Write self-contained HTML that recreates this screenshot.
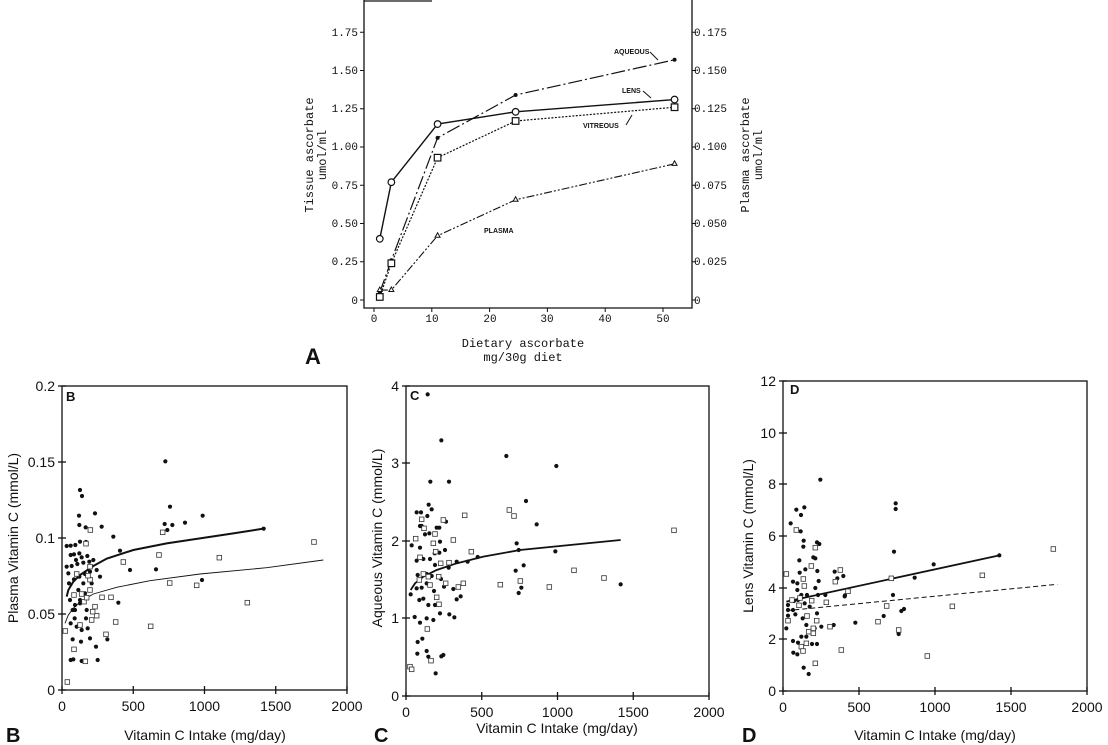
<!DOCTYPE html>
<html><head><meta charset="utf-8"><style>
html,body{margin:0;padding:0;background:#fff;}
svg{display:block;}
.m{font-family:"Liberation Mono",monospace;font-size:11px;fill:#111;}
.mt{font-family:"Liberation Mono",monospace;font-size:12px;fill:#111;}
.s{font-family:"Liberation Sans",sans-serif;font-size:14px;fill:#111;}
.lb{font-family:"Liberation Sans",sans-serif;font-size:7px;font-weight:bold;fill:#111;}
</style></head><body>
<svg id="g" width="1108" height="745" viewBox="0 0 1108 745" xmlns="http://www.w3.org/2000/svg">
<g stroke="#111" fill="none" stroke-width="1.3">
<path d="M364,0 V308 H692 V0"/><path d="M364,1 H432"/>
</g>
<g class="m" text-anchor="end">
<text x="358" y="36">1.75</text><text x="358" y="74">1.50</text><text x="358" y="112">1.25</text>
<text x="358" y="150">1.00</text><text x="358" y="189">0.75</text><text x="358" y="227">0.50</text>
<text x="358" y="265">0.25</text><text x="358" y="304">0</text>
</g>
<g class="m">
<text x="694" y="36">0.175</text><text x="694" y="74">0.150</text><text x="694" y="112">0.125</text>
<text x="694" y="150">0.100</text><text x="694" y="189">0.075</text><text x="694" y="227">0.050</text>
<text x="694" y="265">0.025</text><text x="694" y="304">0</text>
</g>
<g class="m" text-anchor="middle">
<text x="374" y="322">0</text><text x="432" y="322">10</text><text x="490" y="322">20</text>
<text x="547" y="322">30</text><text x="605" y="322">40</text><text x="663" y="322">50</text>
</g>
<g class="mt" text-anchor="middle">
<text x="523" y="347">Dietary ascorbate</text><text x="523" y="361">mg/30g diet</text>
<text transform="translate(313,155) rotate(-90)">Tissue ascorbate</text>
<text transform="translate(326,155) rotate(-90)">umol/ml</text>
<text transform="translate(749,155) rotate(-90)">Plasma ascorbate</text>
<text transform="translate(762,155) rotate(-90)">umol/ml</text>
</g>
<text x="305" y="364" font-family="Liberation Sans,sans-serif" font-weight="bold" font-size="22" fill="#111">A</text>
<text class="lb" x="614" y="54">AQUEOUS</text><text class="lb" x="622" y="93">LENS</text>
<text class="lb" x="583" y="128">VITREOUS</text><text class="lb" x="484" y="233">PLASMA</text>
<g stroke="#111" stroke-width="1" fill="none">
<path d="M650,52 L658,60"/><path d="M643,91 L651,98"/><path d="M626,125 L632,115"/>
</g>
<g id="A"></g>
<g id="B"></g><g id="C"></g><g id="D"></g>
<g class="s">
<text x="6" y="742" font-weight="bold" font-size="20">B</text>
<text x="374" y="742" font-weight="bold" font-size="20">C</text>
<text x="742" y="742" font-weight="bold" font-size="20">D</text>
<text x="66" y="401" font-weight="bold" font-size="13">B</text>
<text x="410" y="400" font-weight="bold" font-size="13">C</text>
<text x="790" y="394" font-weight="bold" font-size="13">D</text>
<text x="205" y="740" text-anchor="middle">Vitamin C Intake (mg/day)</text>
<text x="557" y="733" text-anchor="middle">Vitamin C Intake (mg/day)</text>
<text x="935" y="740" text-anchor="middle">Vitamin C Intake (mg/day)</text>
<text transform="translate(18,538) rotate(-90)" text-anchor="middle">Plasma Vitamin C (mmol/L)</text>
<text transform="translate(382,538) rotate(-90)" text-anchor="middle">Aqueous Vitamin C (mmol/L)</text>
<text transform="translate(753,536) rotate(-90)" text-anchor="middle">Lens Vitamin C (mmol/L)</text>
</g>
</svg>
<script>
var NS="http://www.w3.org/2000/svg";
function el(p,t,a,txt){var e=document.createElementNS(NS,t);for(var k in a)e.setAttribute(k,a[k]);if(txt!=null)e.textContent=txt;p.appendChild(e);return e;}
var A=document.getElementById("A");
function px(d){return 374+5.78*d;} function py(v){return 300-153*v;}
for(var i=0;i<8;i++){var y=py(i*0.25);el(A,"line",{x1:360,x2:364,y1:y,y2:y,stroke:"#111"});el(A,"line",{x1:692,x2:696,y1:y,y2:y,stroke:"#111"});}
for(var i=0;i<6;i++){var x=px(i*10);el(A,"line",{x1:x,x2:x,y1:308,y2:312,stroke:"#111"});}
var xs=[1,3,11,24.5,52];
var ser=[
 {y:[0.40,0.77,1.15,1.23,1.31],d:"",m:"o",w:1.4},
 {y:[0.05,0.26,1.06,1.34,1.57],d:"14,3,2,3",m:"d",w:1.2},
 {y:[0.02,0.24,0.93,1.17,1.26],d:"2,1.5",m:"s",w:1.2},
 {y:[0.065,0.065,0.42,0.655,0.89],d:"8,2,2,2,2,2",m:"t",w:1.1}];
ser.forEach(function(s){var pts=xs.map(function(x,i){return px(x)+","+py(s.y[i]);}).join(" ");
 el(A,"polyline",{points:pts,fill:"none",stroke:"#111","stroke-width":s.w,"stroke-dasharray":s.d});
 xs.forEach(function(x,i){var X=px(x),Y=py(s.y[i]);
  if(s.m=="o")el(A,"circle",{cx:X,cy:Y,r:3.3,fill:"#fff",stroke:"#111","stroke-width":1.2});
  if(s.m=="s")el(A,"rect",{x:X-3.3,y:Y-3.3,width:6.6,height:6.6,fill:"#fff",stroke:"#111","stroke-width":1.2});
  if(s.m=="d")el(A,"circle",{cx:X,cy:Y,r:2,fill:"#111"});
  if(s.m=="t")el(A,"path",{d:"M"+X+","+(Y-3)+" l2.5,4.5 h-5z",fill:"#fff",stroke:"#111"});
 });});
function panel(id,ox,oy,box,yt,xt,filled,open,lines){
 var g=document.getElementById(id);
 function Z(p){return [ox+p[0]/3,oy+p[1]/3];}
 el(g,"rect",{x:box[0],y:box[1],width:box[2]-box[0],height:box[3]-box[1],fill:"none",stroke:"#111","stroke-width":1.3});
 yt.forEach(function(t){el(g,"line",{x1:box[0]-4,x2:box[0]+4,y1:t[1],y2:t[1],stroke:"#111","stroke-width":1.3});
  el(g,"text",{x:box[0]-7,y:t[1]+5,"text-anchor":"end","class":"s"},t[0]);});
 xt.forEach(function(t){el(g,"line",{x1:t[1],x2:t[1],y1:box[3]-4,y2:box[3]+4,stroke:"#111","stroke-width":1.3});
  el(g,"text",{x:t[1],y:box[3]+21,"text-anchor":"middle","class":"s"},t[0]);});
 lines.forEach(function(l){var pts=l.p.map(function(p){return Z(p).join(",");}).join(" ");
  el(g,"polyline",{points:pts,fill:"none",stroke:"#111","stroke-width":l.w,"stroke-dasharray":l.d||""});});
 filled.forEach(function(p){var q=Z(p);el(g,"circle",{cx:q[0],cy:q[1],r:2.1,fill:"#111"});});
 open.forEach(function(p){var q=Z(p);el(g,"rect",{x:q[0]-2.3,y:q[1]-2.3,width:4.6,height:4.6,fill:"#fff",stroke:"#333","stroke-width":0.8});});
}
function xticks(x0,x1){var r=[];for(var i=0;i<5;i++)r.push([String(i*500),x0+(x1-x0)*i/4]);return r;}
panel("B",0,370,[62,386,347,690],
 [["0.2",386],["0.15",462],["0.1",538],["0.05",614],["0",690]],xticks(62,347),
 [[200,528],[212,527],[226,525],[240,515],[258,516],[222,553],[238,550],[212,555],[228,570],[245,562],[262,558],[200,590],[215,588],[232,582],[250,578],[268,575],[280,570],[207,640],[222,628],[238,620],[255,612],[270,605],[290,600],[210,690],[225,705],[240,690],[255,670],[270,660],[225,720],[240,700],[260,720],[212,760],[230,770],[245,780],[263,775],[218,808],[243,815],[270,805],[288,830],[212,870],[220,868],[245,873],[293,870],[240,360],[246,378],[237,437],[285,430],[257,472],[238,465],[305,470],[340,500],[360,542],[390,600],[355,698],[322,808],[496,274],[510,410],[494,462],[502,480],[517,465],[555,458],[608,437],[791,476],[468,598],[606,630],[235,660],[250,640],[275,640],[300,620],[205,610],[218,720],[258,745],[224,745]],
 [[196,783],[202,936],[222,838],[222,675],[230,612],[245,672],[252,695],[260,683],[270,590],[270,629],[270,660],[275,750],[285,710],[290,737],[306,682],[318,793],[333,682],[347,756],[370,576],[258,521],[271,480],[477,555],[488,487],[509,639],[452,769],[590,646],[658,563],[742,698],[942,516],[240,765],[256,874],[264,617],[278,725]],
 [{p:[[200,680],[205,660],[220,635],[240,615],[280,588],[320,566],[400,540],[500,520],[600,505],[700,490],[790,476]],w:2},
  {p:[[195,760],[205,735],[220,715],[245,692],[280,672],[350,652],[450,632],[600,612],[800,593],[970,570]],w:0.9}]);
panel("C",370,370,[406,386,709,696],
 [["4",386],["3",463],["2",541],["1",618],["0",696]],xticks(406,709),
 [[173,73],[214,211],[409,258],[559,288],[181,335],[237,335],[140,427],[153,427],[176,404],[185,418],[172,438],[150,468],[155,468],[200,473],[208,473],[228,455],[165,493],[178,490],[210,515],[125,526],[150,533],[140,572],[160,567],[180,567],[194,550],[208,548],[225,540],[195,585],[236,593],[260,575],[293,575],[323,561],[143,615],[170,612],[185,618],[122,673],[140,655],[155,653],[170,640],[192,663],[213,627],[222,650],[250,657],[148,690],[160,686],[175,705],[195,705],[210,730],[238,733],[260,688],[272,679],[134,741],[150,758],[170,745],[190,750],[253,742],[143,816],[157,806],[142,851],[170,843],[175,860],[214,859],[220,855],[197,910],[440,520],[446,540],[500,463],[468,393],[437,602],[461,586],[446,669],[454,653],[556,544],[752,643]],
 [[120,890],[125,898],[137,506],[155,448],[162,475],[150,562],[148,630],[160,612],[175,620],[180,645],[190,520],[195,492],[197,545],[200,682],[207,703],[206,620],[212,580],[220,450],[227,640],[237,578],[250,510],[265,651],[280,640],[284,436],[304,545],[172,777],[183,872],[391,644],[418,420],[432,438],[451,633],[538,651],[612,601],[702,624],[912,481]],
 [{p:[[122,660],[135,640],[160,620],[200,600],[260,580],[340,560],[450,540],[600,525],[752,510]],w:1.8}]);
panel("D",738,370,[783,381,1087,691],
 [["12",381],["10",433],["8",484],["6",536],["4",588],["2",639],["0",691]],xticks(783,1087),
 [[247,329],[473,400],[473,417],[199,412],[175,419],[189,435],[158,460],[188,484],[197,512],[196,530],[184,571],[185,608],[165,635],[178,640],[150,737],[145,775],[237,517],[244,522],[226,562],[232,565],[202,598],[238,603],[290,605],[316,618],[298,625],[242,633],[232,654],[178,660],[207,675],[190,675],[168,693],[240,675],[262,675],[320,679],[150,720],[165,720],[180,690],[200,700],[215,710],[237,730],[250,770],[287,765],[352,758],[172,733],[194,745],[205,765],[230,775],[165,813],[180,818],[190,800],[205,800],[222,822],[237,822],[166,848],[178,853],[197,893],[212,912],[468,545],[465,675],[437,738],[490,723],[498,717],[482,792],[530,623],[587,583],[784,556],[321,676],[150,705]],
 [[145,612],[150,752],[162,690],[175,480],[183,706],[186,684],[196,627],[199,648],[207,738],[212,785],[205,820],[190,830],[195,843],[220,588],[221,692],[232,533],[236,752],[226,775],[226,790],[232,880],[265,697],[276,770],[292,635],[307,600],[330,664],[310,840],[420,755],[446,708],[460,625],[482,780],[568,858],[643,709],[733,616],[946,537]],
 [{p:[[145,695],[784,556]],w:1.8},{p:[[145,722],[958,643]],w:1,d:"5,3"}]);
</script>
</body></html>
